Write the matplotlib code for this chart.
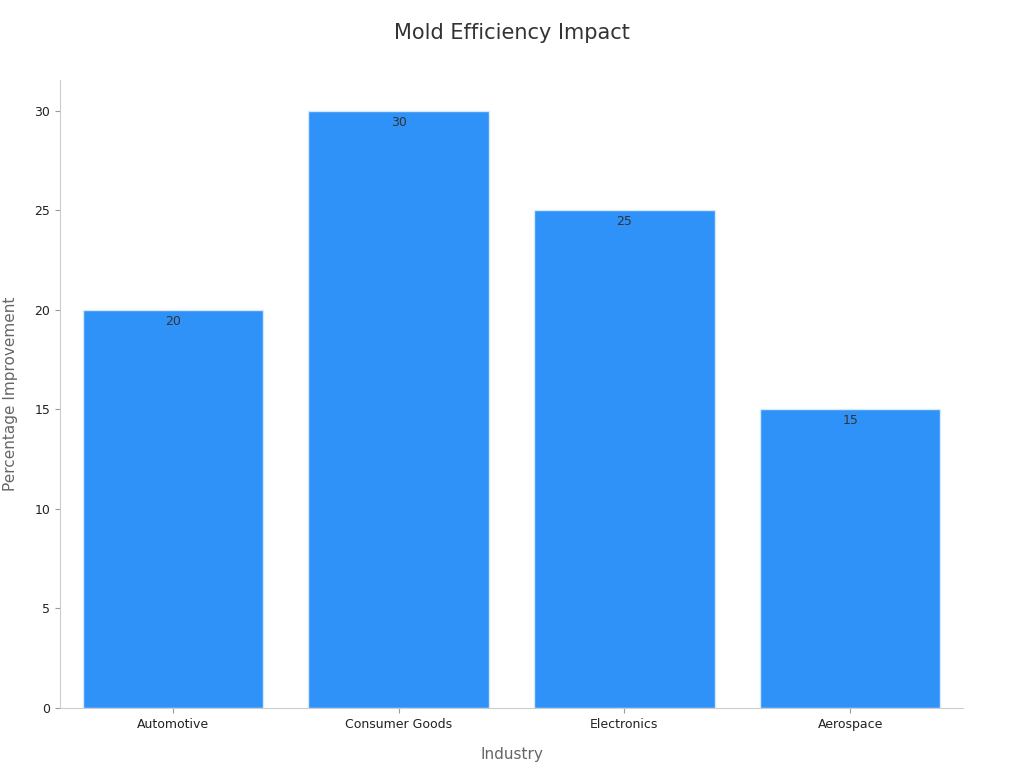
import matplotlib
matplotlib.use("Agg")
import matplotlib.pyplot as plt

categories = ["Automotive", "Consumer Goods", "Electronics", "Aerospace"]
values = [20, 30, 25, 15]
yticks = [0, 5, 10, 15, 20, 25, 30]

fig = plt.figure(figsize=(10.24, 7.68), dpi=100)
ax = fig.add_axes([60/1024, 60/768, 903/1024, 628/768])
x = range(len(categories))
bars = ax.bar(x, values, width=0.8, color="#2f92f8", edgecolor="#d8e8fb", linewidth=1)
for xi, v in zip(x, values):
    ax.text(xi, v - 0.25, str(v), ha="center", va="top", fontsize=9, color="#333333")
ax.set_xlim(-0.5, 3.5)
ax.set_ylim(0, 31.55)
ax.set_xticks(list(x))
ax.set_xticklabels(categories, fontsize=9, color="#222222")
ax.set_yticks(yticks)
ax.tick_params(axis="y", labelsize=9, labelcolor="#222222", color="#999999")
ax.tick_params(axis="x", color="#999999")
for s in ["top", "right"]:
    ax.spines[s].set_visible(False)
for s in ["left", "bottom"]:
    ax.spines[s].set_color("#cccccc")
ax.set_xlabel("Industry", fontsize=11, color="#666666", labelpad=12)
ax.set_ylabel("Percentage Improvement", fontsize=11, color="#666666", labelpad=12)
fig.text(0.5, 1 - 33/768, "Mold Efficiency Impact", ha="center", va="center", fontsize=15, color="#333333")
fig.savefig("out.png", dpi=100)
